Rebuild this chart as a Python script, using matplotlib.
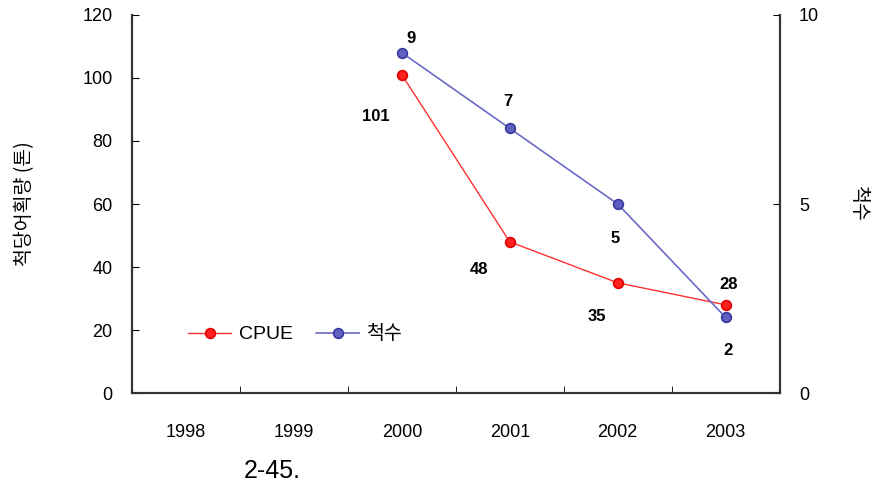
import matplotlib.pyplot as plt
import numpy as np

plt.rcParams['font.family'] = ['Liberation Sans', 'Noto Sans CJK KR', 'DejaVu Sans']

years = ['1998', '1999', '2000', '2001', '2002', '2003']
cpue_years = ['2000', '2001', '2002', '2003']
cpue = [101, 48, 35, 28]
boats = [9, 7, 5, 2]

x_all = np.arange(len(years))
x = np.array([years.index(y) for y in cpue_years])

fig = plt.figure(figsize=(8.77, 4.97), dpi=100)
ax = fig.add_axes([0.1505, 0.209, 0.7385, 0.761])
ax2 = ax.twinx()

l1, = ax.plot(x, cpue, color='#ff3030', lw=1, marker='o', ms=7,
              mfc='#ff2020', mec='#e00000', mew=1.2, label='CPUE', zorder=3)
l2, = ax2.plot(x, boats, color='#6a6ac8', lw=1.2, marker='o', ms=7,
               mfc='#6060c0', mec='#3838a0', mew=1.2, label='척수', zorder=3)

ax.set_xlim(-0.5, len(years) - 0.5)
ax.set_ylim(0, 120)
ax2.set_ylim(0, 10)
ax.set_yticks(range(0, 121, 20))
ax2.set_yticks([0, 5, 10])
ax.set_xticks(x_all)
ax.set_xticklabels(years)
ax.set_xticks(np.arange(0.5, len(years) - 0.5), minor=True)
ax.tick_params(axis='x', which='major', length=0, pad=22, labelsize=13)
ax.tick_params(axis='x', which='minor', direction='in', length=5)
ax.tick_params(axis='y', direction='in', length=5, labelsize=13, pad=14)
ax2.tick_params(axis='y', direction='in', length=5, labelsize=13, pad=14)
for a in (ax, ax2):
    a.spines['top'].set_visible(False)
    for s in ('left', 'right', 'bottom'):
        a.spines[s].set_linewidth(1.5)
        a.spines[s].set_color('#333333')

ax.set_ylabel('척당어획량 (톤)', family=['Noto Sans CJK KR'], fontsize=14, labelpad=34)
ax2.set_ylabel('척수', family=['Noto Sans CJK KR'], fontsize=14, rotation=270,
               labelpad=36)

# value labels (offsets in points)
cpue_off = [(-19, -30), (-22, -20), (-15, -24), (2, 15)]
boat_off = [(6.5, 10), (-1.5, 19), (-1.5, -25), (1.5, -24)]
for xi, v, (dx, dy) in zip(x, cpue, cpue_off):
    ax.annotate(str(v), (xi, v), xytext=(dx, dy), textcoords='offset points',
                ha='center', va='center', fontsize=12, fontweight='bold')
for xi, v, (dx, dy) in zip(x, boats, boat_off):
    ax2.annotate(str(v), (xi, v), xytext=(dx, dy), textcoords='offset points',
                 ha='center', va='center', fontsize=12, fontweight='bold')

leg = ax.legend([l1, l2], ['CPUE', '척수'], loc='lower left',
                bbox_to_anchor=(0.06, 0.085), ncol=2, frameon=False,
                prop={'family': ['Liberation Sans', 'Noto Sans CJK KR'], 'size': 14},
                handlelength=2.2, handletextpad=0.4, columnspacing=1.2)

fig.text(0.311, 0.053, '2-45.', fontsize=18, ha='center', va='center')

fig.savefig('out.png', dpi=100)
